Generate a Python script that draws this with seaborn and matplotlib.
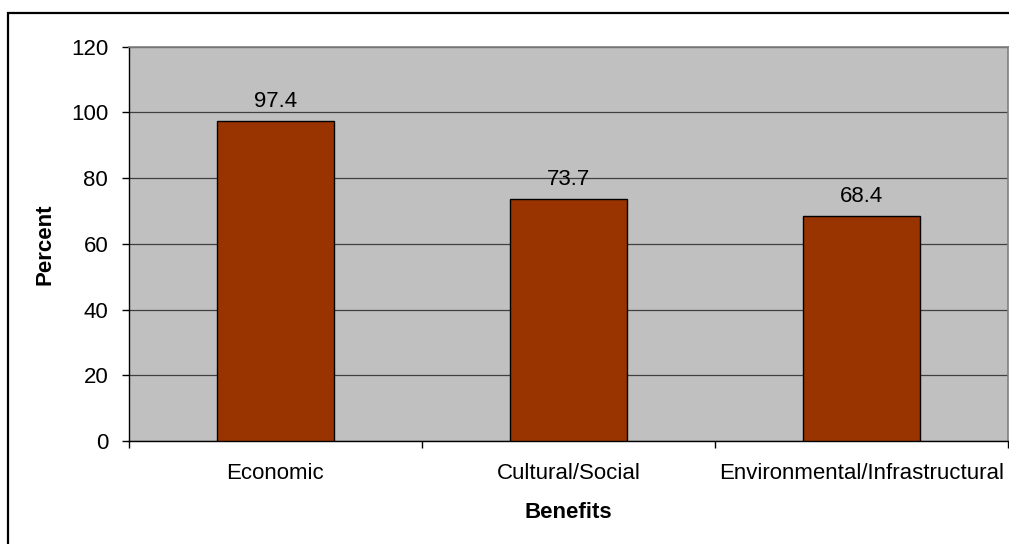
import matplotlib
matplotlib.use("Agg")
import matplotlib.pyplot as plt
import seaborn as sns
import pandas as pd
from matplotlib.patches import Rectangle
from matplotlib.ticker import FixedLocator

benefits = ["Economic", "Cultural/Social", "Environmental/Infrastructural"]
percent = [97.4, 73.7, 68.4]

df = pd.DataFrame({"Benefits": benefits, "Percent": percent})

sns.set_style("white")
plt.rcParams['font.family'] = ['Liberation Sans', 'DejaVu Sans']
plt.rcParams['text.color'] = 'black'
plt.rcParams['xtick.color'] = 'black'
plt.rcParams['ytick.color'] = 'black'
plt.rcParams['axes.labelcolor'] = 'black'
fs = 16

fig = plt.figure(figsize=(10.09, 5.44), dpi=100)
ax = fig.add_axes([129 / 1009, 1 - 441 / 544, 879 / 1009, (441 - 46.7) / 544])
ax.set_facecolor("#C0C0C0")

sns.barplot(data=df, x="Benefits", y="Percent", color="#993300", width=0.4,
            edgecolor="black", linewidth=1, saturation=1, ax=ax, zorder=3)

ax.set_ylim(0, 120)
ax.set_xlim(-0.5, 2.5)
ax.set_yticks(range(0, 121, 20))
ax.yaxis.grid(True, color="#404040", linewidth=0.9, zorder=0)
ax.set_axisbelow(True)

# value labels above bars
for i, v in enumerate(percent):
    ax.annotate(f"{v}", (i, v), xytext=(0, 10), textcoords="offset points",
                ha="center", va="baseline", fontsize=fs)

# ticks at category boundaries
ax.xaxis.set_minor_locator(FixedLocator([-0.5, 0.5, 1.5, 2.5]))
ax.tick_params(axis="x", which="major", bottom=True, length=0, pad=16, labelsize=fs)
ax.tick_params(axis="x", which="minor", bottom=True, length=5, width=1, direction="out")
ax.tick_params(axis="y", which="major", left=True, length=5, width=1, direction="out",
               labelsize=fs, pad=10)

for s in ["left", "bottom"]:
    ax.spines[s].set_color("black")
    ax.spines[s].set_linewidth(1)
for s in ["top", "right"]:
    ax.spines[s].set_color("#808080")
    ax.spines[s].set_linewidth(1.2)

ax.set_xlabel("Benefits", fontsize=fs, fontweight="bold", labelpad=13)
ax.set_ylabel("Percent", fontsize=fs, fontweight="bold", labelpad=11)

# outer chart border
fig.add_artist(Rectangle((8 / 1009, -0.1), 1.1, 1.1 - 13 / 544, transform=fig.transFigure,
                         fill=False, edgecolor="black", linewidth=1.6))

fig.savefig("out.png", dpi=100)
